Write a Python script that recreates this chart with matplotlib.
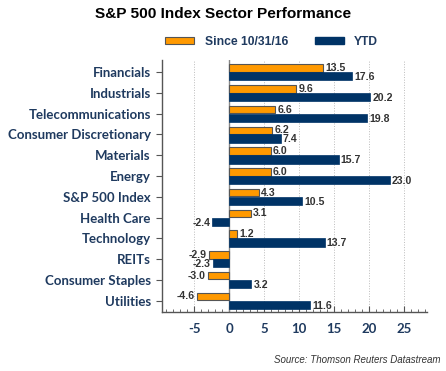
import matplotlib
matplotlib.use("Agg")
import matplotlib.pyplot as plt
import numpy as np
from matplotlib.ticker import MultipleLocator
from matplotlib.patches import Patch

categories = ["Financials", "Industrials", "Telecommunications", "Consumer Discretionary",
              "Materials", "Energy", "S&P 500 Index", "Health Care", "Technology",
              "REITs", "Consumer Staples", "Utilities"]
since = [13.5, 9.6, 6.6, 6.2, 6.0, 6.0, 4.3, 3.1, 1.2, -2.9, -3.0, -4.6]
ytd = [17.6, 20.2, 19.8, 7.4, 15.7, 23.0, 10.5, -2.4, 13.7, -2.3, 3.2, 11.6]
xticks = [-5, 0, 5, 10, 15, 20, 25]

orange = "#FF9900"
navy = "#003366"
labcol = "#1F3A5F"
valcol = "#333333"

fig = plt.figure(figsize=(4.46, 3.71), dpi=100)
ax = fig.add_axes([0.363, 0.159, 0.594, 0.68])

n = len(categories)
y = np.arange(n)
h = 0.36
ax.barh(y - h / 2 - 0.02, since, height=h, color=orange, edgecolor="#555555", linewidth=0.8, zorder=3)
ax.barh(y + h / 2 + 0.02, ytd, height=h + 0.04, color=navy, edgecolor=navy, linewidth=0.5, zorder=3)

for yi, v in zip(y, since):
    ha = "left" if v >= 0 else "right"
    off = 0.3 if v >= 0 else -0.3
    ax.text(v + off, yi - h / 2 - 0.02, f"{v:.1f}", ha=ha, va="center", fontsize=7.6,
            fontweight="bold", color=valcol, family="Liberation Sans", zorder=4)
for yi, v in zip(y, ytd):
    ha = "left" if v >= 0 else "right"
    off = 0.3 if v >= 0 else -0.3
    ax.text(v + off, yi + h / 2 + 0.06, f"{v:.1f}", ha=ha, va="center", fontsize=7.6,
            fontweight="bold", color=valcol, family="Liberation Sans", zorder=4)

ax.set_ylim(n - 0.45, -0.6)
ax.set_xlim(-9.6, 28.3)
ax.set_yticks(y)
ax.set_yticklabels(categories, fontsize=9.5, fontweight="bold", color=labcol, family="Lato")
ax.set_xticks(xticks)
ax.set_xticklabels([str(t) for t in xticks], fontsize=9.5, fontweight="bold", color=labcol, family="Lato")
ax.xaxis.set_minor_locator(MultipleLocator(1))
ax.tick_params(axis="x", which="major", direction="in", length=4, color="#555555", pad=8)
ax.tick_params(axis="x", which="minor", direction="in", length=2, color="#555555")
ax.tick_params(axis="y", direction="out", length=4, color="#555555", pad=4)

for s in ["top", "right"]:
    ax.spines[s].set_visible(False)
for s in ["left", "bottom"]:
    ax.spines[s].set_color("#555555")
    ax.spines[s].set_linewidth(1)

for t in xticks:
    ax.axvline(t, color="#BBBBBB", linestyle=":", linewidth=0.7, zorder=1)
ax.axvline(0, color="#888888", linewidth=1, zorder=2)

fig.text(0.5, 0.962, "S&P 500 Index Sector Performance", ha="center", va="center",
         fontsize=11.1, fontweight="bold", family="Liberation Sans", color="black")

handles = [Patch(facecolor=orange, edgecolor="#555555", linewidth=0.8),
           Patch(facecolor=navy, edgecolor=navy)]
leg = fig.legend(handles, ["Since 10/31/16", "YTD"], loc="center", bbox_to_anchor=(0.609, 0.887),
                 ncol=2, frameon=False, handlelength=2.4, handleheight=0.55, columnspacing=2.2,
                 handletextpad=0.85,
                 prop={"family": "Liberation Sans", "weight": "bold", "size": 8.7})
for t in leg.get_texts():
    t.set_color(labcol)

fig.text(0.987, 0.015, "Source: Thomson Reuters Datastream", ha="right", va="bottom",
         fontsize=7.0, style="italic", family="Liberation Sans", color="#333333")

fig.savefig("out.png", dpi=100)
